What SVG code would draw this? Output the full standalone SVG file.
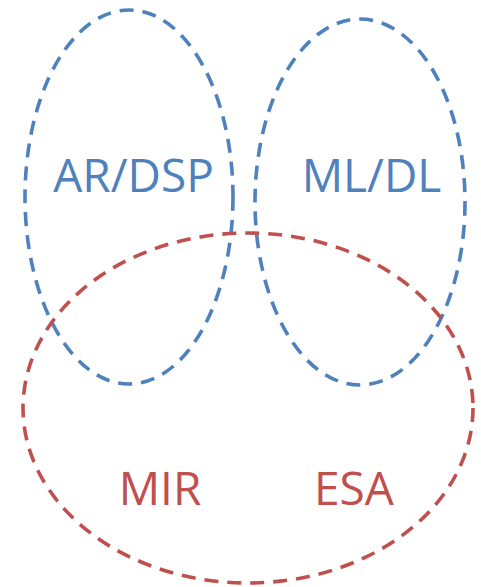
<svg xmlns="http://www.w3.org/2000/svg" width="481" height="587" viewBox="0 0 481 587">
<style>
.b{fill:none;stroke:#4F81BD;stroke-width:3.6;stroke-dasharray:14 9}
.r{fill:none;stroke:#C0504D;stroke-width:3.6;stroke-dasharray:14 9}
.t{font-family:"Open Sans","Noto Sans",sans-serif;font-size:46px;text-anchor:middle}
.tb{fill:#4F81BD}
.tr{fill:#C0504D}
</style>
<g id="connectors"></g>
<g id="ardsp"><ellipse class="b" cx="129" cy="197" rx="104" ry="187"/><text class="t tb" x="133.5" y="192">AR/DSP</text></g>
<g id="mldl"><ellipse class="b" cx="360" cy="202" rx="105" ry="183"/><text class="t tb" x="371.5" y="192">ML/DL</text></g>
<g id="mir-esa"><ellipse class="r" cx="248" cy="408" rx="225" ry="175"/><text class="t tr" x="160" y="505">MIR</text><text class="t tr" x="354" y="505">ESA</text></g>
</svg>
